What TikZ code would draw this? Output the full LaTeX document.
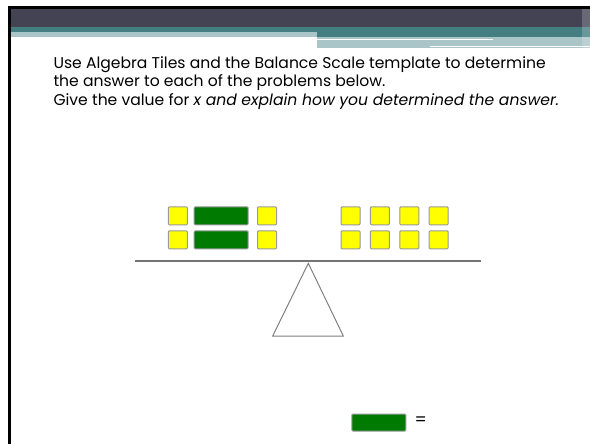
\documentclass[tikz,border=0pt]{standalone}
\usepackage{fontspec}
\setmainfont{Poppins}
\usetikzlibrary{calc}
\definecolor{hdrdark}{HTML}{434354}
\definecolor{hdrteal}{HTML}{457E81}
\definecolor{hdrlight}{HTML}{A9C5C7}
\definecolor{tileyel}{HTML}{FFFF00}
\definecolor{tilegrn}{HTML}{007A00}
\tikzset{
  unittile/.style={draw=gray!80,fill=tileyel,line width=1bp,rounded corners=1bp,
    minimum width=19bp,minimum height=18bp,inner sep=0pt},
  xtile/.style={unittile,fill=tilegrn,minimum width=54bp},
  prompt/.style={anchor=base west,font=\fontsize{15.6bp}{18.5bp}\selectfont},
}
\newcommand{\unitrow}[4]{%
  % name prefix, first x centre, y centre, number of unit tiles.
  \foreach \i in {1,...,#4}{%
    \node[unittile] (#1\i) at ({#2+(\i-1)*29.4},#3) {};
  }
}

\begin{document}
\begin{tikzpicture}[x=1bp,y=-1bp]
  \useasboundingbox (0,0) rectangle (590,444);
  % slide frame and header bands
  \fill[black] (8,6) rectangle (590,9);
  \fill[black] (8,6) rectangle (11,444);
  \fill[hdrdark] (11,9) rectangle (590,27);
  \fill[hdrteal] (11,27) rectangle (590,32);
  \fill[hdrteal] (317,32) rectangle (590,37);
  \fill[hdrlight] (11,32) rectangle (317,37);
  \fill[hdrlight] (317,37) rectangle (590,48);
  \draw[white,line width=1bp] (317,40)--(493,40);
  \draw[white,line width=1bp] (430,47)--(590,47);
  \fill[white,opacity=0.2] (582,9) rectangle (590,48);
  \node[prompt] (line1) at (50,68.5) {Use Algebra Tiles and the Balance Scale template to determine};
  \node[prompt] (line2) at (50,87) {the answer to each of the problems below.};
  \node[prompt] (line3) at (50,105.5) {Give the value for \textit{x and explain how you determined the answer.}};
  % left pan: 1 + x + 1 on each row
  \foreach \r/\y in {a/215.8,b/239.8}{%
    \node[unittile] (l\r1) at (177.8,\y) {};
    \node[xtile] (x\r) at (221.2,\y) {};
    \node[unittile] (l\r2) at (267,\y) {};
  }
  % right pan: eight units
  \unitrow{ra}{350.5}{215.8}{4}
  \unitrow{rb}{350.5}{239.8}{4}
  % beam and fulcrum
  \draw[gray!90!black,line width=1.5bp] (135,261)--(481,261);
  \draw[gray,line width=1bp,line join=miter] (308.3,263.3)--(343.3,336)--(272.7,336)--cycle;
  % answer line
  \node[xtile,minimum height=17bp] (ans) at (378.8,422.5) {};
  \node[font=\fontsize{17bp}{17bp}\selectfont,anchor=west] (eq) at (411,421.5) {=};
\end{tikzpicture}
\end{document}
